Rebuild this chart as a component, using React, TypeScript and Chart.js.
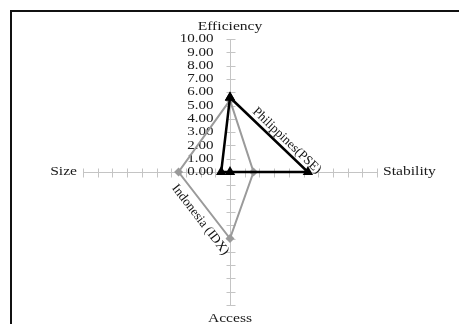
import React, { useEffect, useRef } from 'react';
import { Chart, registerables } from 'chart.js';

Chart.register(...registerables);

// ---- data ----
const axisNames = ['Efficiency', 'Stability', 'Access', 'Size'];
const philippinesPSE = [5.6, 5.3, 0, 0.6];
const indonesiaIDX = [5.4, 1.6, 5.0, 3.5];
const seriesNames = ['Philippines(PSE)', 'Indonesia (IDX)'];
const axisMax = 10;
const tickStep = 1;

// direction of each spoke (top, right, bottom, left)
const axisDirections = [
  { x: 0, y: 1 },
  { x: 1, y: 0 },
  { x: 0, y: -1 },
  { x: -1, y: 0 },
];

const AXIS_COLOR = '#c4c4c4';
const SERIF = '"Liberation Serif", "Times New Roman", serif';
const TEXT_STRETCH = 1.2;

function toPolygon(values: number[]) {
  const pts = values.map((v, i) => ({ x: axisDirections[i].x * v, y: axisDirections[i].y * v }));
  return [...pts, pts[0]];
}

function fillStretched(
  ctx: CanvasRenderingContext2D,
  text: string,
  x: number,
  y: number,
  align: CanvasTextAlign,
  baseline: CanvasTextBaseline
) {
  ctx.save();
  ctx.translate(x, y);
  ctx.scale(TEXT_STRETCH, 1);
  ctx.textAlign = align;
  ctx.textBaseline = baseline;
  ctx.fillText(text, 0, 0);
  ctx.restore();
}

function labelAlong(
  ctx: CanvasRenderingContext2D,
  text: string,
  a: { x: number; y: number },
  b: { x: number; y: number },
  along: number,
  perp: number
) {
  const ang = Math.atan2(b.y - a.y, b.x - a.x);
  const mx = (a.x + b.x) / 2;
  const my = (a.y + b.y) / 2;
  ctx.save();
  ctx.translate(mx, my);
  ctx.rotate(ang);
  ctx.textAlign = 'center';
  ctx.textBaseline = 'middle';
  ctx.fillText(text, along, perp);
  ctx.restore();
}

const crossAxesPlugin = {
  id: 'crossAxes',
  beforeDatasetsDraw(chart: any) {
    const { ctx, scales } = chart;
    const xs = scales.x;
    const ys = scales.y;
    const x0 = Math.round(xs.getPixelForValue(0)) + 0.5;
    const y0 = Math.round(ys.getPixelForValue(0)) + 0.5;
    ctx.save();
    ctx.strokeStyle = AXIS_COLOR;
    ctx.lineWidth = 1;
    ctx.beginPath();
    for (let v = -axisMax; v <= axisMax; v += tickStep) {
      if (v === 0) continue;
      const py = Math.round(ys.getPixelForValue(v)) + 0.5;
      ctx.moveTo(x0 - 4, py);
      ctx.lineTo(x0 + 5, py);
      const px = Math.round(xs.getPixelForValue(v)) + 0.5;
      ctx.moveTo(px, y0 - 4);
      ctx.lineTo(px, y0 + 5);
    }
    ctx.stroke();

    ctx.font = `12.5px ${SERIF}`;
    ctx.fillStyle = '#1a1a1a';
    ys.ticks.forEach((t: any) => {
      if (t.value >= 0) fillStretched(ctx, Number(t.value).toFixed(2), x0 - 17, ys.getPixelForValue(t.value), 'right', 'middle');
    });
    ctx.restore();
  },
  afterDatasetsDraw(chart: any) {
    const { ctx, chartArea, scales } = chart;
    const xs = scales.x;
    const ys = scales.y;
    const x0 = xs.getPixelForValue(0);
    const y0 = ys.getPixelForValue(0);
    ctx.save();
    ctx.fillStyle = '#1a1a1a';
    ctx.font = `13px ${SERIF}`;
    fillStretched(ctx, axisNames[0], x0, chartArea.top - 6, 'center', 'bottom');
    fillStretched(ctx, axisNames[2], x0, chartArea.bottom + 7, 'center', 'top');
    fillStretched(ctx, axisNames[1], chartArea.right + 6, y0, 'left', 'middle');
    fillStretched(ctx, axisNames[3], chartArea.left - 6, y0, 'right', 'middle');

    ctx.font = `13px ${SERIF}`;
    ctx.fillStyle = '#111';
    const pse = chart.getDatasetMeta(0).data;
    const idx = chart.getDatasetMeta(1).data;
    labelAlong(ctx, seriesNames[0], pse[0], pse[1], 17, -8);
    labelAlong(ctx, seriesNames[1], idx[3], idx[2], 9, 12);
    ctx.restore();
  },
};

export default function App() {
  const canvasRef = useRef<HTMLCanvasElement | null>(null);

  useEffect(() => {
    if (!canvasRef.current) return;
    const chart = new Chart(canvasRef.current, {
      type: 'scatter',
      data: {
        datasets: [
          {
            label: seriesNames[0],
            data: toPolygon(philippinesPSE),
            showLine: true,
            borderColor: '#000',
            backgroundColor: '#000',
            borderWidth: 2.5,
            pointStyle: 'triangle',
            pointRadius: 6,
            pointBorderWidth: 0,
            tension: 0,
          },
          {
            label: seriesNames[1],
            data: toPolygon(indonesiaIDX),
            showLine: true,
            borderColor: '#9a9a9a',
            backgroundColor: '#9a9a9a',
            borderWidth: 2,
            pointStyle: 'rectRot',
            pointRadius: 4.5,
            pointBorderWidth: 0,
            tension: 0,
          },
        ],
      },
      options: {
        animation: false,
        responsive: false,
        layout: { padding: { left: 83, right: 82, top: 39, bottom: 19 } },
        plugins: { legend: { display: false }, tooltip: { enabled: false } },
        scales: {
          x: {
            type: 'linear',
            min: -axisMax,
            max: axisMax,
            position: { y: 0 },
            grid: { display: false },
            border: { display: true, color: AXIS_COLOR, width: 1 },
            ticks: { display: false, stepSize: tickStep },
          },
          y: {
            type: 'linear',
            min: -axisMax,
            max: axisMax,
            position: { x: 0 },
            grid: { display: false },
            border: { display: true, color: AXIS_COLOR, width: 1 },
            ticks: { display: false, stepSize: tickStep },
          },
        },
      } as any,
      plugins: [crossAxesPlugin],
    });
    return () => chart.destroy();
  }, []);

  return (
    <div style={{ position: 'fixed', left: 0, top: 0, width: 459, height: 324, background: '#fff', overflow: 'hidden' }}>
      <div
        style={{
          position: 'absolute',
          left: 10,
          top: 10,
          right: -10,
          bottom: -10,
          borderTop: '2px solid #111',
          borderLeft: '2px solid #111',
        }}
      />
      <canvas ref={canvasRef} width={459} height={324} style={{ position: 'absolute', left: 0, top: 0, width: 459, height: 324 }} />
    </div>
  );
}
